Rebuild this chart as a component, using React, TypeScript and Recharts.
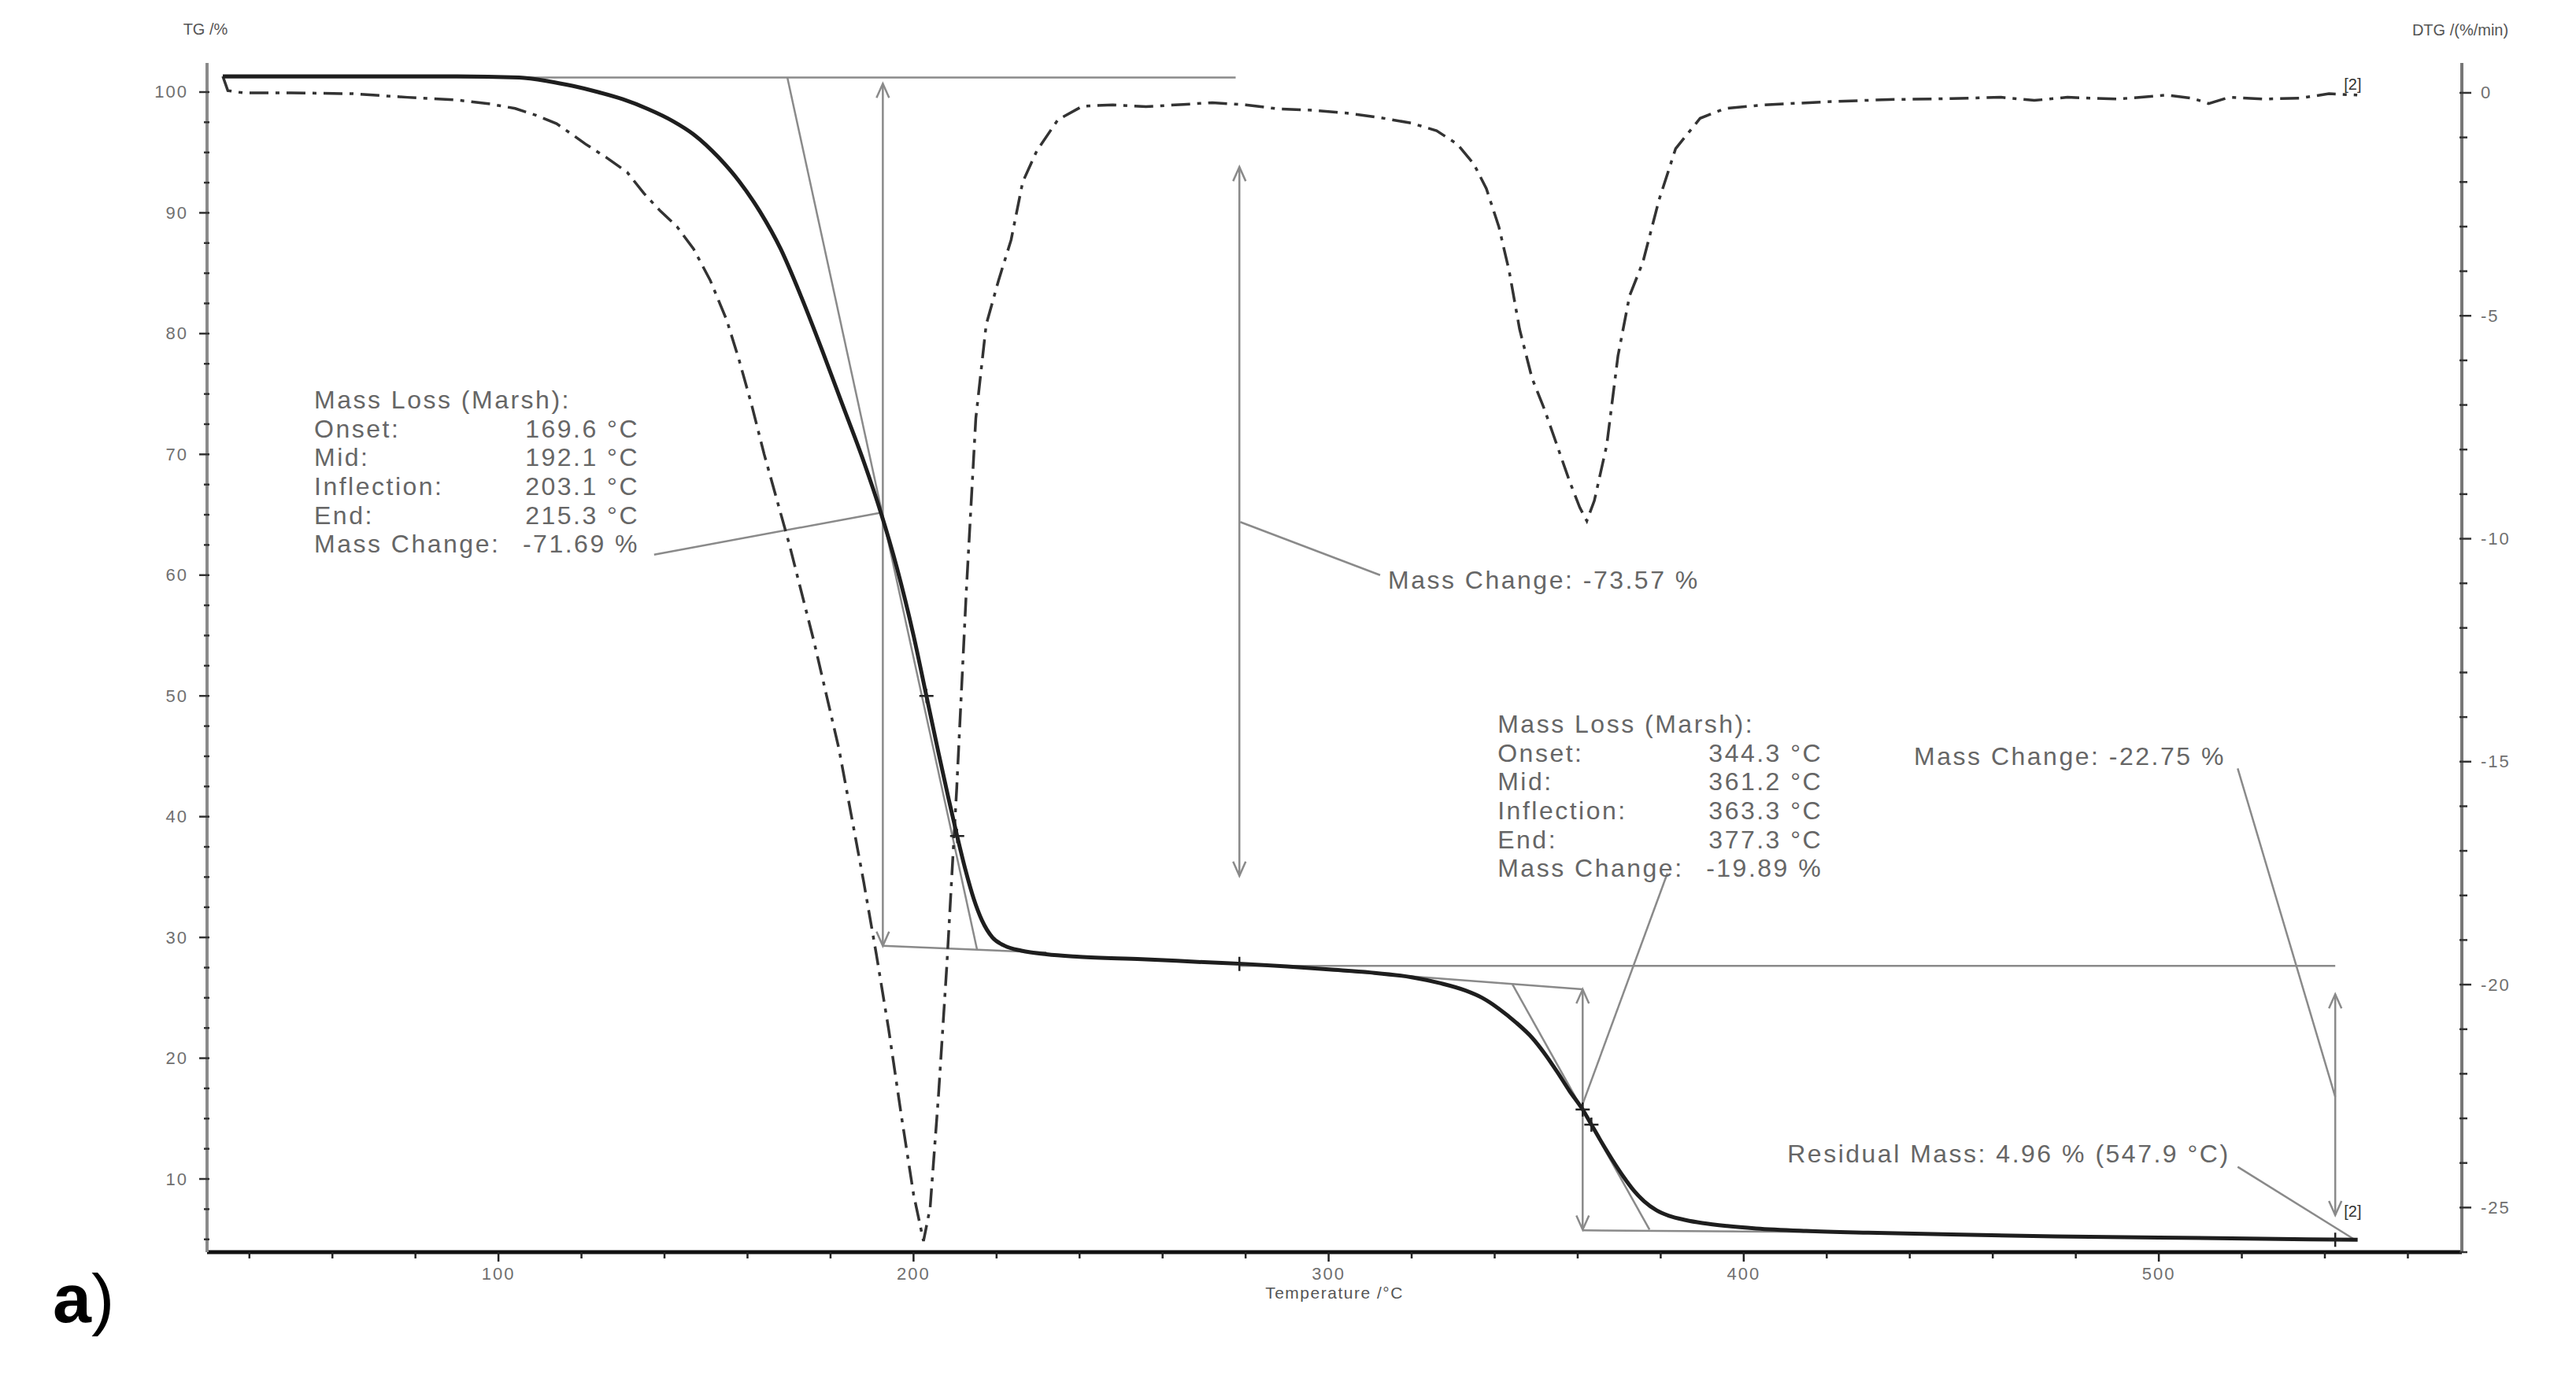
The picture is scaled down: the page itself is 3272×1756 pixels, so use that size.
import { ComposedChart, Line, XAxis, YAxis, ReferenceLine, Scatter } from 'recharts';

// TG curve (mass %, left axis)
const tgTemp = [
  33.6, 50, 70, 90, 105, 112, 118, 124, 130, 136, 142, 147, 153, 158, 163, 168, 173, 178, 183, 188,
  192.1, 196, 200, 203.1, 206, 208.5, 210.5, 212.5, 214.5, 216.5, 219, 222, 226, 232, 240, 255, 270,
  280, 290, 300, 310, 320, 327, 333, 337, 341, 345, 349, 352, 355, 358, 361.2, 363.3, 366, 368.5,
  371, 373.5, 376, 379, 382, 386, 390, 396, 403, 415, 430, 450, 475, 500, 525, 547.9,
];
const tgMass = [
  101.3, 101.3, 101.3, 101.3, 101.2, 100.9, 100.5, 100.0, 99.4, 98.6, 97.6, 96.5, 94.6, 92.6, 90.1,
  87.0, 83.0, 78.6, 74.0, 69.4, 65.2, 60.6, 55.0, 50.0, 45.3, 41.4, 38.4, 35.6, 33.2, 31.4, 30.0, 29.3,
  28.9, 28.6, 28.4, 28.2, 27.95, 27.8, 27.6, 27.35, 27.1, 26.7, 26.2, 25.6, 25.0, 24.1, 23.0, 21.7,
  20.4, 18.9, 17.3, 15.75, 14.5, 12.9, 11.5, 10.2, 9.05, 8.15, 7.4, 6.95, 6.6, 6.35, 6.1, 5.9, 5.7,
  5.55, 5.4, 5.25, 5.15, 5.05, 4.96,
];

// DTG curve (%/min, right axis)
const dtgTemp = [
  33.6, 34.8, 38.5, 50, 65, 78, 90, 98, 104, 109, 114, 118, 121, 126, 131, 135, 139, 143, 147, 151,
  155, 158, 161, 164, 167, 170, 173, 176, 179, 182, 185, 188, 191, 194, 197, 200, 202.4, 204, 206, 208,
  210.4, 212.7, 215, 217.5, 220.5, 223.5, 226.3, 229.7, 234.8, 240.7, 248, 256, 265, 272, 280, 288,
  296, 304, 312, 320, 326, 331, 335, 338, 341, 343.5, 346, 349, 352, 355, 358, 360.5, 362.2, 364, 367,
  369.7, 372.5, 375.7, 379.6, 383.6, 389.5, 395.5, 405, 420, 435, 450, 462, 470, 478, 490, 502, 508,
  512, 517, 525, 534, 541, 547.8,
];
const dtgRate = [
  0.37, 0.05, 0.0, 0.0, -0.02, -0.1, -0.16, -0.25, -0.35, -0.5, -0.69, -0.95, -1.15, -1.45, -1.78,
  -2.25, -2.65, -3.0, -3.5, -4.2, -5.1, -6.0, -7.0, -8.1, -9.1, -10.1, -11.2, -12.3, -13.5, -14.7,
  -16.2, -17.7, -19.3, -21.0, -22.9, -24.7, -25.75, -25.0, -22.5, -19.6, -15.6, -11.2, -7.3, -5.2,
  -4.2, -3.3, -2.0, -1.3, -0.6, -0.3, -0.27, -0.31, -0.26, -0.22, -0.27, -0.36, -0.39, -0.45, -0.55,
  -0.68, -0.85, -1.15, -1.6, -2.15, -3.0, -4.0, -5.3, -6.4, -7.1, -7.9, -8.7, -9.3, -9.6, -9.15, -7.9,
  -5.9, -4.55, -3.8, -2.4, -1.25, -0.57, -0.35, -0.27, -0.2, -0.15, -0.13, -0.1, -0.17, -0.1, -0.14,
  -0.05, -0.12, -0.24, -0.1, -0.14, -0.12, -0.02, -0.05,
];

// axis ticks
const xTicks = [40, 60, 80, 100, 120, 140, 160, 180, 200, 220, 240, 260, 280, 300, 320, 340, 360, 380, 400, 420, 440, 460, 480, 500, 520, 540, 560];
const tgTicks = [5, 7.5, 10, 12.5, 15, 17.5, 20, 22.5, 25, 27.5, 30, 32.5, 35, 37.5, 40, 42.5, 45, 47.5, 50, 52.5, 55, 57.5, 60, 62.5, 65, 67.5, 70, 72.5, 75, 77.5, 80, 82.5, 85, 87.5, 90, 92.5, 95, 97.5, 100];
const dtgTicks = [-26, -25, -24, -23, -22, -21, -20, -19, -18, -17, -16, -15, -14, -13, -12, -11, -10, -9, -8, -7, -6, -5, -4, -3, -2, -1, 0];

// evaluation guides drawn by the TA software: [t1, tg1, t2, tg2]
const guideSegments = [
  [33.6, 101.2, 277.6, 101.2], // initial baseline
  [169.6, 101.2, 215.3, 29.0], // step 1 tangent
  [192.6, 100.7, 192.6, 29.3], // step 1 mass change arrow
  [192.6, 29.3, 232, 28.75], // step 1 lower baseline
  [278.5, 93.8, 278.5, 35.1], // -73.57 % arrow
  [278.5, 27.65, 542.5, 27.65], // plateau reference
  [300, 27.3, 361.2, 25.7], // step 2 upper baseline
  [344.3, 26.1, 377.3, 5.8], // step 2 tangent
  [361.2, 25.7, 361.2, 5.8], // step 2 arrow
  [361.2, 5.75, 420, 5.6], // step 2 lower baseline
  [542.5, 25.3, 542.5, 7.0], // -22.75 % arrow
  [137.5, 61.7, 192.6, 65.2], // leaders
  [278.7, 64.4, 312.4, 60.0],
  [381.6, 35.3, 361.2, 16.2],
  [519, 44.0, 542.5, 16.8],
  [519, 11.0, 547.3, 4.95],
];

const arrowTips = [
  { t: 192.6, v: 100.7, dir: 'up' },
  { t: 192.6, v: 29.3, dir: 'down' },
  { t: 278.5, v: 93.8, dir: 'up' },
  { t: 278.5, v: 35.1, dir: 'down' },
  { t: 361.2, v: 25.7, dir: 'up' },
  { t: 361.2, v: 5.8, dir: 'down' },
  { t: 542.5, v: 25.3, dir: 'up' },
  { t: 542.5, v: 7.0, dir: 'down' },
];

const curveMarks = [
  { t: 203.1, v: 50.0 },
  { t: 210.5, v: 38.4 },
  { t: 278.5, v: 27.8 },
  { t: 361.2, v: 15.75 },
  { t: 363.3, v: 14.5 },
  { t: 542.5, v: 4.97 },
];

const marshLabels = ['Mass Loss (Marsh):', 'Onset:', 'Mid:', 'Inflection:', 'End:', 'Mass Change:'];
const marshStep1 = ['', '169.6 °C', '192.1 °C', '203.1 °C', '215.3 °C', '-71.69 %'];
const marshStep2 = ['', '344.3 °C', '361.2 °C', '363.3 °C', '377.3 °C', '-19.89 %'];

const notes = [
  { t: 55.6, v: 74.5, values: marshStep1 },
  { t: 340.7, v: 47.65, values: marshStep2 },
  { t: 314.3, v: 59.6, text: 'Mass Change: -73.57 %' },
  { t: 441.0, v: 45.0, text: 'Mass Change: -22.75 %' },
  { t: 410.5, v: 12.1, text: 'Residual Mass: 4.96 % (547.9 °C)' },
  { t: 546.7, v: 100.65, tag: '[2]' },
  { t: 546.7, v: 7.3, tag: '[2]' },
];

const tgData = tgTemp.map((t, i) => ({ t, v: tgMass[i] }));
const dtgData = dtgTemp.map((t, i) => ({ t, v: dtgRate[i] }));

const FONT = '"Liberation Sans", Arial, sans-serif';
const GUIDE = '#8a8a8a';
const TEXT = '#666';
const TICK_TEXT = '#707070';

function BottomTick({ x, y, payload }: any) {
  const major = payload.value % 100 === 0;
  return (
    <g>
      <line x1={x} y1={y} x2={x} y2={y + (major ? 12 : 8)} stroke="#222" strokeWidth={2.5} />
      {major && (
        <text x={x} y={y + 27} textAnchor="middle" dominantBaseline="central" fontSize={22} fontFamily={FONT} fill={TICK_TEXT} letterSpacing={2}>
          {payload.value}
        </text>
      )}
    </g>
  );
}

function LeftTick({ x, y, payload }: any) {
  const major = payload.value % 10 === 0;
  return (
    <g>
      <line x1={major ? x - 10 : x - 4} y1={y} x2={x + 3} y2={y} stroke="#333" strokeWidth={2.5} />
      {major && (
        <text x={x - 24} y={y} textAnchor="end" dominantBaseline="central" fontSize={22} fontFamily={FONT} fill={TICK_TEXT} letterSpacing={2}>
          {payload.value}
        </text>
      )}
    </g>
  );
}

function RightTick({ x, y, payload }: any) {
  const major = payload.value % 5 === 0;
  return (
    <g>
      <line x1={x - 3} y1={y} x2={x + (major ? 12 : 7)} y2={y} stroke="#333" strokeWidth={2.5} />
      {major && (
        <text x={x + 24} y={y} textAnchor="start" dominantBaseline="central" fontSize={22} fontFamily={FONT} fill={TICK_TEXT} letterSpacing={2}>
          {payload.value}
        </text>
      )}
    </g>
  );
}

function ArrowTip({ cx, cy, payload }: any) {
  const s = payload.dir === 'up' ? 1 : -1;
  return (
    <path
      d={`M${cx - 8},${cy + s * 18} L${cx},${cy} L${cx + 8},${cy + s * 18}`}
      fill="none"
      stroke={GUIDE}
      strokeWidth={2.5}
    />
  );
}

function CrossMark({ cx, cy }: any) {
  return (
    <path d={`M${cx - 9},${cy} H${cx + 9} M${cx},${cy - 9} V${cy + 9}`} stroke="#222" strokeWidth={2.5} />
  );
}

function NoteText({ cx, cy, payload }: any) {
  const common = { fontSize: 32, fontFamily: FONT, fill: TEXT, letterSpacing: 2.5, dominantBaseline: 'central' as const };
  if (payload.values) {
    return (
      <g>
        {marshLabels.map((label, i) => (
          <g key={label}>
            <text x={cx} y={cy + i * 36.6} {...common}>{label}</text>
            {payload.values[i] && (
              <text x={cx + 413} y={cy + i * 36.6} textAnchor="end" {...common}>{payload.values[i]}</text>
            )}
          </g>
        ))}
      </g>
    );
  }
  if (payload.tag) {
    return (
      <text x={cx} y={cy} textAnchor="middle" dominantBaseline="central" fontSize={20} fontFamily={FONT} fill="#333">
        {payload.tag}
      </text>
    );
  }
  return <text x={cx} y={cy} {...common}>{payload.text}</text>;
}

export default function App() {
  return (
    <div style={{ position: 'absolute', left: 0, top: 0, width: 3272, height: 1756, background: '#fff' }}>
      <ComposedChart width={3272} height={1756} margin={{ top: 80, right: 45, bottom: 65, left: 163 }}>
        <XAxis
          type="number"
          dataKey="t"
          domain={[29.8, 573]}
          allowDataOverflow
          ticks={xTicks}
          interval={0}
          tick={<BottomTick />}
          tickLine={false}
          tickSize={0}
          tickMargin={0}
          height={100}
          axisLine={{ stroke: '#111', strokeWidth: 5 }}
        />
        <YAxis
          yAxisId="tg"
          orientation="left"
          type="number"
          domain={[3.94, 102.41]}
          allowDataOverflow
          ticks={tgTicks}
          interval={0}
          tick={<LeftTick />}
          tickLine={false}
          tickSize={0}
          tickMargin={0}
          width={100}
          axisLine={{ stroke: '#8a8a8a', strokeWidth: 4 }}
        />
        <YAxis
          yAxisId="dtg"
          orientation="right"
          type="number"
          domain={[-26.0, 0.67]}
          allowDataOverflow
          ticks={dtgTicks}
          interval={0}
          tick={<RightTick />}
          tickLine={false}
          tickSize={0}
          tickMargin={0}
          width={100}
          axisLine={{ stroke: '#777', strokeWidth: 4 }}
        />

        {guideSegments.map(([t1, v1, t2, v2], i) => (
          <ReferenceLine
            key={`g-${i}`}
            yAxisId="tg"
            segment={[{ x: t1, y: v1 }, { x: t2, y: v2 }]}
            stroke={GUIDE}
            strokeWidth={2.5}
            ifOverflow="visible"
          />
        ))}

        <Line
          yAxisId="dtg"
          data={dtgData}
          dataKey="v"
          type="linear"
          stroke="#333"
          strokeWidth={3.5}
          strokeDasharray="24 9 5 9"
          dot={false}
          activeDot={false}
          isAnimationActive={false}
        />
        <Line
          yAxisId="tg"
          data={tgData}
          dataKey="v"
          type="monotone"
          stroke="#1e1e1e"
          strokeWidth={5}
          dot={false}
          activeDot={false}
          isAnimationActive={false}
        />

        <Scatter yAxisId="tg" data={arrowTips} dataKey="v" shape={(p: any) => <ArrowTip {...p} />} isAnimationActive={false} />
        <Scatter yAxisId="tg" data={curveMarks} dataKey="v" shape={(p: any) => <CrossMark {...p} />} isAnimationActive={false} />
        <Scatter yAxisId="tg" data={notes} dataKey="v" shape={(p: any) => <NoteText {...p} />} isAnimationActive={false} />
      </ComposedChart>

      <svg width={3272} height={1756} style={{ position: 'absolute', left: 0, top: 0, pointerEvents: 'none' }}>
        <text x={261} y={37} textAnchor="middle" dominantBaseline="central" fontSize={20} fontFamily={FONT} fill="#555">
          TG /%
        </text>
        <text x={3125} y={38} textAnchor="middle" dominantBaseline="central" fontSize={20} fontFamily={FONT} fill="#555">
          DTG /(%/min)
        </text>
        <text x={1695} y={1642} textAnchor="middle" dominantBaseline="central" fontSize={21} fontFamily={FONT} fill="#555" letterSpacing={1.5}>
          Temperature /°C
        </text>
        <text x={67} y={1680} fontSize={88} fontFamily={FONT} fill="#000">
          <tspan fontWeight="bold">a</tspan>)
        </text>
      </svg>
    </div>
  );
}
